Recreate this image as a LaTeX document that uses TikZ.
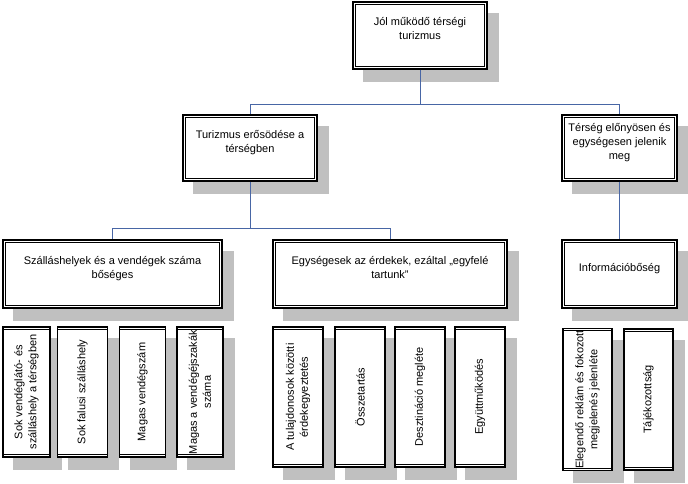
\documentclass[tikz,border=0pt]{standalone}
\usepackage{fontspec}
\setmainfont{Liberation Sans}
\usetikzlibrary{backgrounds}
\definecolor{linkblue}{RGB}{72,102,165}
\definecolor{shadowgray}{RGB}{192,192,192}
% empty last line: lifts the text in the upper boxes
\newcommand{\lift}{\\\mbox{}}

\begin{document}
\begin{tikzpicture}[x=1pt, y=1pt, font=\fontsize{11}{14}\selectfont,
  box/.style={draw, line width=1.1pt, fill=white, align=center, inner sep=2pt,
    path picture={\draw[line width=0.5pt]
      ([shift={(2.3pt,2.3pt)}]path picture bounding box.south west) rectangle
      ([shift={(-2.3pt,-2.3pt)}]path picture bounding box.north east);}},
  leaf/.style={box, rotate=90},
  shade/.style={fill=shadowgray},
  link/.style={draw=linkblue, line width=0.6pt}]
\useasboundingbox (0, 0) rectangle (688, 484);
\node[box, minimum width=134pt, minimum height=67pt] (jol) at (420, 448.5) {Jól működő térségi\\turizmus\lift};
\node[box, minimum width=134pt, minimum height=66pt] (erosodes) at (250, 336) {Turizmus erősödése a\\térségben\lift};
\node[box, minimum width=115pt, minimum height=66pt] (terseg) at (619.5, 336) {Térség előnyösen és\\egységesen jelenik\\meg\lift};
\node[box, minimum width=219pt, minimum height=68pt] (szallas) at (112.5, 210) {Szálláshelyek és a vendégek száma\\bőséges\lift};
\node[box, minimum width=234pt, minimum height=68pt] (egyseges) at (390, 210) {Egységesek az érdekek, ezáltal „egyfelé\\tartunk”\lift};
\node[box, minimum width=115pt, minimum height=68pt] (info) at (619.5, 210) {Információbőség\lift};
% bottom row
\node[leaf, minimum width=130pt, minimum height=47pt] (vendeglato) at (26.5, 92) {Sok vendéglátó- és\\szálláshely a térségben};
\node[leaf, minimum width=130pt, minimum height=50pt] (falusi) at (82.5, 92) {Sok falusi szálláshely};
\node[leaf, minimum width=130pt, minimum height=46pt] (vendegszam) at (142.5, 92) {Magas vendégszám};
\node[leaf, minimum width=130pt, minimum height=46pt] (ejszakak) at (200, 92) {Magas a vendégéjszakák\\száma};
\node[leaf, minimum width=140pt, minimum height=50pt] (erdek) at (298, 87) {A tulajdonosok közötti\\érdekegyeztetés};
\node[leaf, minimum width=140pt, minimum height=50pt] (osszetartas) at (360, 87) {Összetartás};
\node[leaf, minimum width=140pt, minimum height=50pt] (desztinacio) at (420, 87) {Desztináció megléte};
\node[leaf, minimum width=140pt, minimum height=50pt] (egyuttmukodes) at (480, 87) {Együttműködés};
\node[leaf, minimum width=141pt, minimum height=49pt] (reklam) at (587.5, 84.5) {Elegendő reklám és fokozott\\megjelenés jelenléte};
\node[leaf, minimum width=141pt, minimum height=49pt] (tajekozottsag) at (648.5, 84.5) {Tájékozottság};
% shadows
\begin{scope}[on background layer]
\foreach \n in {jol, erosodes, terseg, szallas, egyseges, info, vendeglato, falusi,
    vendegszam, ejszakak, erdek, osszetartas, desztinacio, egyuttmukodes, reklam, tajekozottsag}
  \fill[shade] ([shift={(11pt,-12pt)}]\n.south west) rectangle ([shift={(11pt,-12pt)}]\n.north east);
\end{scope}
% connectors
\coordinate (bar1) at (420, 380);
\coordinate (bar2) at (250, 256);
\draw[link] (jol.south) -- (jol.south |- bar1) -| (erosodes.north);
\draw[link] (jol.south |- bar1) -| (terseg.north);
\draw[link] (erosodes.south) -- (erosodes.south |- bar2) -| (szallas.north);
\draw[link] (erosodes.south |- bar2) -| (egyseges.north);
\draw[link] (terseg.south) -- (info.north);
\end{tikzpicture}
\end{document}
